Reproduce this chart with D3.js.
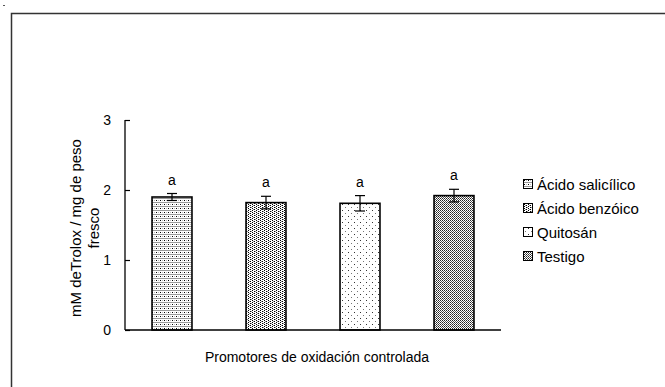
<!DOCTYPE html>
<html><head><meta charset="utf-8">
<script src="https://cdn.jsdelivr.net/npm/d3@7"></script>
<style>body{margin:0;background:#fff}svg{display:block}text{font-family:"Liberation Sans",Arial,sans-serif;fill:#000}</style>
</head><body><div id="chart"></div>
<script>
const categories = ["Ácido salicílico","Ácido benzóico","Quitosán","Testigo"];
const values = [1.90, 1.82, 1.81, 1.92];
const errors = [0.05, 0.09, 0.11, 0.09];
const sigLabels = ["a","a","a","a"];
const yTicks = [0,1,2,3];
const yTitle = ["mM deTrolox / mg de peso","fresco"];
const xTitle = "Promotores de oxidación controlada";

const W=665,H=387;
const svg=d3.select("#chart").append("svg").attr("width",W).attr("height",H);
const defs=svg.append("defs");
function pat(id,w,h,cells){
  const p=defs.append("pattern").attr("id",id).attr("patternUnits","userSpaceOnUse").attr("width",w).attr("height",h);
  p.append("rect").attr("width",w).attr("height",h).attr("fill","#fff");
  cells.forEach(c=>p.append("rect").attr("x",c[0]).attr("y",c[1]).attr("width",1).attr("height",1).attr("fill",c[2]||"#000"));
}
pat("p0",4,4,[[0,0,"#000"],[0,2,"#999"],[1,2,"#999"],[2,2,"#999"],[3,2,"#999"],[2,0,"#bbb"]]);
pat("p1",4,4,[[0,0],[2,1],[0,2],[2,3],[1,1,"#999"],[3,3,"#999"]]);
pat("p2",6,6,[[0,0,"#333"],[3,3,"#777"]]);
pat("p3",2,2,[[0,0,"#222"],[1,1,"#555"]]);
const fills=["url(#p0)","url(#p1)","url(#p2)","url(#p3)"];

// outer frame
svg.append("rect").attr("x",11.5).attr("y",13.5).attr("width",W).attr("height",H).attr("fill","none").attr("stroke","#333").attr("stroke-width",1.5);
svg.append("rect").attr("x",3).attr("y",5).attr("width",2).attr("height",1).attr("fill","#555");

const x0=125,x1=501,yTop=120,yBot=330;
const x=d3.scaleBand().domain(categories).range([x0,x1]).paddingInner(0.575).paddingOuter(0.2875);
const y=d3.scaleLinear().domain([0,3]).range([yBot,yTop]);
const g=svg.append("g");

g.selectAll("rect.bar").data(values).join("rect").attr("class","bar")
 .attr("x",(d,i)=>x(categories[i])).attr("width",x.bandwidth())
 .attr("y",d=>y(d)).attr("height",d=>y(0)-y(d))
 .attr("fill",(d,i)=>fills[i]).attr("stroke","#000").attr("stroke-width",1.6);

// error bars
values.forEach((v,i)=>{
  const cx=x(categories[i])+x.bandwidth()/2;
  const e=g.append("g").attr("stroke","#000").attr("stroke-width",1.2);
  e.append("line").attr("x1",cx).attr("x2",cx).attr("y1",y(v+errors[i])).attr("y2",y(v-errors[i]));
  e.append("line").attr("x1",cx-5).attr("x2",cx+5).attr("y1",y(v+errors[i])).attr("y2",y(v+errors[i]));
  e.append("line").attr("x1",cx-5).attr("x2",cx+5).attr("y1",y(v-errors[i])).attr("y2",y(v-errors[i]));
  g.append("text").attr("x",cx).attr("y",y(v+errors[i])-9).attr("text-anchor","middle").attr("font-size",14).text(sigLabels[i]);
});

// axes
const ay=d3.axisLeft(y).tickValues(yTicks).tickSize(-5).tickPadding(14).tickFormat(d3.format("d"));
const ag=svg.append("g").attr("transform",`translate(${x0},0)`).call(ay);
ag.select(".domain").attr("stroke","#000").attr("stroke-width",1.3).attr("d",`M0,${yTop}V${yBot}`);
ag.selectAll(".tick line").attr("stroke","#000").attr("stroke-width",1.2);
ag.selectAll(".tick text").attr("font-size",14).attr("font-family","Liberation Sans, Arial, sans-serif").attr("fill","#000");
svg.append("line").attr("x1",x0).attr("x2",x1).attr("y1",yBot).attr("y2",yBot).attr("stroke","#000").attr("stroke-width",1.3);

// titles
svg.append("text").attr("x",317).attr("y",362).attr("text-anchor","middle").attr("font-size",14).text(xTitle);
yTitle.forEach((t,i)=>{
  svg.append("text").attr("transform",`translate(${81+i*18},228) rotate(-90)`).attr("text-anchor","middle").attr("font-size",15).text(t);
});

// legend
const lg=svg.append("g");
categories.forEach((c,i)=>{
  const yy=184+i*24;
  lg.append("rect").attr("x",523.5).attr("y",yy-4.5).attr("width",9).attr("height",9).attr("fill",fills[i]).attr("stroke","#000").attr("stroke-width",1);
  lg.append("text").attr("x",537).attr("y",yy+5.5).attr("font-size",15).text(c);
});
</script></body></html>
